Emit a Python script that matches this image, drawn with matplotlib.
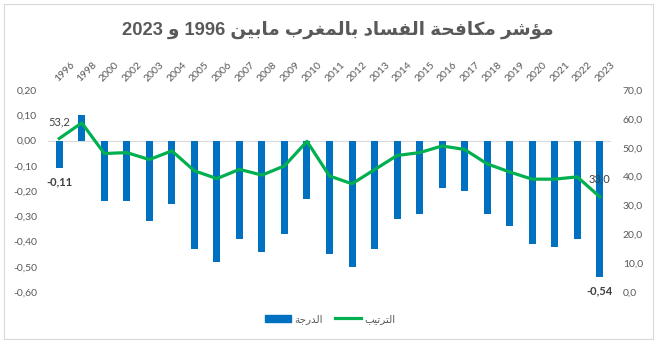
import matplotlib
matplotlib.use("Agg")
import matplotlib.pyplot as plt
from matplotlib.patches import Rectangle
from matplotlib.lines import Line2D
from matplotlib.ticker import FuncFormatter, MultipleLocator

# ---- data ----
years = ['1996', '1998', '2000', '2002', '2003', '2004', '2005', '2006', '2007',
         '2008', '2009', '2010', '2011', '2012', '2013', '2014', '2015', '2016',
         '2017', '2018', '2019', '2020', '2021', '2022', '2023']
score = [-0.11, 0.10, -0.24, -0.24, -0.32, -0.25, -0.43, -0.48, -0.39,
         -0.44, -0.37, -0.23, -0.45, -0.50, -0.43, -0.31, -0.29, -0.19,
         -0.20, -0.29, -0.34, -0.41, -0.42, -0.39, -0.54]
rank = [53.2, 58.6, 48.0, 48.3, 45.9, 48.9, 42.0, 39.3, 42.5,
        40.5, 43.7, 52.2, 40.2, 37.5, 42.4, 47.3, 48.3, 50.6,
        49.4, 44.4, 41.6, 39.1, 39.1, 39.9, 33.0]

title_text = 'مؤشر مكافحة الفساد بالمغرب مابين 1996 و 2023'
score_name = 'الدرجة'
rank_name = 'الترتيب'

# ---- minimal Arabic shaping (presentation forms, visual order) ----
FORMS = {
    'ا': ('\uFE8D', '\uFE8E', None, None),
    'ب': ('\uFE8F', '\uFE90', '\uFE91', '\uFE92'),
    'ة': ('\uFE93', '\uFE94', None, None),
    'ت': ('\uFE95', '\uFE96', '\uFE97', '\uFE98'),
    'ج': ('\uFE9D', '\uFE9E', '\uFE9F', '\uFEA0'),
    'ح': ('\uFEA1', '\uFEA2', '\uFEA3', '\uFEA4'),
    'د': ('\uFEA9', '\uFEAA', None, None),
    'ر': ('\uFEAD', '\uFEAE', None, None),
    'س': ('\uFEB1', '\uFEB2', '\uFEB3', '\uFEB4'),
    'ش': ('\uFEB5', '\uFEB6', '\uFEB7', '\uFEB8'),
    'غ': ('\uFECD', '\uFECE', '\uFECF', '\uFED0'),
    'ف': ('\uFED1', '\uFED2', '\uFED3', '\uFED4'),
    'ك': ('\uFED9', '\uFEDA', '\uFEDB', '\uFEDC'),
    'ل': ('\uFEDD', '\uFEDE', '\uFEDF', '\uFEE0'),
    'م': ('\uFEE1', '\uFEE2', '\uFEE3', '\uFEE4'),
    'ن': ('\uFEE5', '\uFEE6', '\uFEE7', '\uFEE8'),
    'و': ('\uFEED', '\uFEEE', None, None),
    'ؤ': ('\uFE85', '\uFE86', None, None),
    'ي': ('\uFEF1', '\uFEF2', '\uFEF3', '\uFEF4'),
}
RIGHT_ONLY = set('اةدروؤ')


def shape_word(w):
    out = []
    for i, c in enumerate(w):
        if c not in FORMS:
            out.append(c)
            continue
        prev = w[i - 1] if i > 0 else None
        nxt = w[i + 1] if i < len(w) - 1 else None
        jp = prev in FORMS and prev not in RIGHT_ONLY
        jn = nxt in FORMS and c not in RIGHT_ONLY
        iso, fin, ini, med = FORMS[c]
        if jp and jn:
            out.append(med)
        elif jp:
            out.append(fin)
        elif jn:
            out.append(ini)
        else:
            out.append(iso)
    return ''.join(reversed(out))


def rtl(s):
    words = s.split(' ')
    return ' '.join(shape_word(w) if any(ch in FORMS for ch in w) else w
                    for w in reversed(words))


# ---- figure ----
W, H = 659, 349
fig = plt.figure(figsize=(W / 100, H / 100), dpi=100)
fig.patch.set_facecolor('white')

GRAY = '#595959'
DARK = '#404040'
BLUE = '#0070C0'
GREEN = '#00B050'
NUM_FONT = ['Lato', 'DejaVu Sans']
AR_FONT = ['Liberation Sans', 'DejaVu Sans']

# chart frame
fig.add_artist(Rectangle((4 / W, 1 - 339 / H), 649 / W, 335 / H,
                         transform=fig.transFigure, fill=False,
                         edgecolor='#D9D9D9', lw=0.8))

ax = fig.add_axes([48 / W, 1 - 292 / H, 563 / W, 202 / H])
ax2 = ax.twinx()

x = list(range(len(years)))
ax.bar(x, score, width=0.31, color=BLUE, zorder=2)
ax.axhline(0, color='#D9D9D9', lw=0.8, zorder=1)
ax.set_xlim(-0.5, len(years) - 0.5)
ax.set_ylim(-0.6, 0.2)
ax.yaxis.set_major_locator(MultipleLocator(0.1))
ax.yaxis.set_major_formatter(FuncFormatter(lambda v, p: f'{v:.2f}'.replace('.', ',').replace('-0,00', '0,00')))

ax2.plot(x, rank, color=GREEN, lw=2.3, solid_joinstyle='round', zorder=3)
ax2.set_ylim(0, 70)
ax2.yaxis.set_major_locator(MultipleLocator(10))
ax2.yaxis.set_major_formatter(FuncFormatter(lambda v, p: f'{v:.1f}'.replace('.', ',')))

for a in (ax, ax2):
    for s in a.spines.values():
        s.set_visible(False)
    a.tick_params(axis='y', length=0, labelcolor=GRAY, labelsize=7.5)
    for lab in a.get_yticklabels():
        lab.set_family(NUM_FONT)
ax.tick_params(axis='y', pad=8)
ax2.tick_params(axis='y', pad=8.5)

# category labels along the top
ax.xaxis.tick_top()
ax.set_xticks(x)
ax.set_xticklabels(years)
ax.tick_params(axis='x', length=0, pad=5, labelcolor=GRAY, labelsize=7.5)
for lab in ax.get_xticklabels():
    lab.set_family(NUM_FONT)
    lab.set_rotation(45)
    lab.set_rotation_mode('anchor')
    lab.set_ha('left')
    lab.set_va('bottom')

# value labels on first and last points
def fmt(v, d):
    return f'{v:.{d}f}'.replace('.', ',')

ax2.annotate(fmt(rank[0], 1), (x[0], rank[0]), xytext=(0, 12), textcoords='offset points',
             ha='center', va='center', fontsize=8, color=DARK, family=NUM_FONT)
ax2.annotate(fmt(rank[-1], 1), (x[-1], rank[-1]), xytext=(0, 12.5), textcoords='offset points',
             ha='center', va='center', fontsize=8, color=DARK, family=NUM_FONT)
ax.annotate(fmt(score[0], 2), (x[0], score[0]), xytext=(0, -9.5), textcoords='offset points',
            ha='center', va='center', fontsize=8, color=DARK, weight='bold', family=NUM_FONT)
ax.annotate(fmt(score[-1], 2), (x[-1], score[-1]), xytext=(0, -10), textcoords='offset points',
            ha='center', va='center', fontsize=8, color=DARK, weight='bold', family=NUM_FONT)

# title
fig.text(338 / W, 1 - 30 / H, rtl(title_text), ha='center', va='center',
         fontsize=13.2, weight='bold', color=GRAY, family=AR_FONT)

# legend
handles = [Rectangle((0, 0), 1, 1, color=BLUE),
           Line2D([0], [0], color=GREEN, lw=2.3)]
leg = fig.legend(handles, [rtl(score_name), rtl(rank_name)], ncol=2,
                 loc='center', bbox_to_anchor=(330 / W, 1 - 319 / H),
                 frameon=False, handlelength=2.5, handleheight=0.7,
                 handletextpad=0.3, columnspacing=1.2,
                 prop={'family': AR_FONT, 'size': 7.5})
for t in leg.get_texts():
    t.set_color(GRAY)

fig.savefig('out.png', dpi=100, facecolor='white')
